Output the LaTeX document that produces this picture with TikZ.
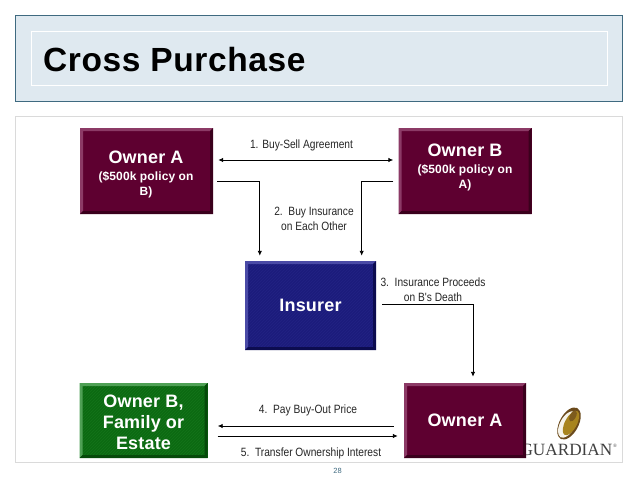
\documentclass[tikz,border=0pt]{standalone}
\usepackage{fontspec}
\setmainfont{Liberation Sans}
\newfontfamily\narrowfont[FakeStretch=0.85]{Liberation Sans}
\newfontfamily\wideboldfont[LetterSpace=1.8]{Liberation Sans Bold}
\newfontfamily\boxfont[LetterSpace=1]{Liberation Sans Bold}
\newfontfamily\logofont{Liberation Serif}
\usetikzlibrary{patterns,arrows.meta}

\definecolor{headfill}{HTML}{DFE9F0}
\definecolor{headline}{HTML}{3F6A80}
\definecolor{panelline}{HTML}{DADADA}
\definecolor{ownerfill}{HTML}{5E0030}
\definecolor{ownerlight}{HTML}{8C3A66}
\definecolor{ownerdark}{HTML}{3A001C}
\definecolor{insurerfill}{HTML}{1C1C7C}
\definecolor{insurerhatch}{HTML}{232384}
\definecolor{insurerlight}{HTML}{4A4AA6}
\definecolor{insurerdark}{HTML}{0C0C50}
\definecolor{familyfill}{HTML}{0C6A12}
\definecolor{familyhatch}{HTML}{14741A}
\definecolor{familylight}{HTML}{4FA055}
\definecolor{familydark}{HTML}{064A0A}
\definecolor{logogold}{HTML}{A8841E}
\definecolor{logobrown}{HTML}{6B4A1C}

% bevel edges of a box: #1 light side, #2 dark side
\newcommand{\bevelbox}[2]{
  \fill[#1] (path picture bounding box.north west) -- (path picture bounding box.north east)
    -- ++(-3pt,-3pt) -| ([shift={(3pt,3pt)}]path picture bounding box.south west)
    -- (path picture bounding box.south west) -- cycle;
  \fill[#2] (path picture bounding box.south east) -- (path picture bounding box.north east)
    -- ++(-3pt,-3pt) |- ([shift={(3pt,3pt)}]path picture bounding box.south west)
    -- (path picture bounding box.south west) -- cycle;
}
% same, round a faint hatching: #1 hatch colour
\newcommand{\hatchbox}[3]{
  \fill[pattern=north east lines,pattern color=#1] ([shift={(3pt,3pt)}]path picture bounding box.south west) rectangle ([shift={(-3pt,-3pt)}]path picture bounding box.north east);
  \bevelbox{#2}{#3}
}

\tikzset{
  partybox/.style={inner sep=0pt,text=white,align=center,font=\boxfont\fontsize{18}{21}\selectfont},
  ownerbox/.style={partybox,fill=ownerfill,path picture={\bevelbox{ownerlight}{ownerdark}}},
  insurerbox/.style={partybox,fill=insurerfill,path picture={\hatchbox{insurerhatch}{insurerlight}{insurerdark}}},
  familybox/.style={partybox,fill=familyfill,path picture={\hatchbox{familyhatch}{familylight}{familydark}}},
  nametext/.style={text=white,inner sep=0pt,align=center,font=\boxfont\fontsize{18}{21}\selectfont},
  policytext/.style={text=white,inner sep=0pt,align=center,font=\boxfont\fontsize{12}{15}\selectfont},
  steplabel/.style={inner sep=0pt,align=center,text=black!85,font=\narrowfont\fontsize{12}{15.5}\selectfont},
  flow/.style={draw=black,line width=0.9pt,-{Latex[length=5pt,width=4.5pt]}},
}

\begin{document}
\begin{tikzpicture}[x=1pt,y=-1pt]
  \useasboundingbox (0,0) rectangle (638,479);

  % heading
  \node[draw=headline,fill=headfill,line width=0.8pt,minimum width=607pt,minimum height=86pt,inner sep=0pt] (head) at (318.5,58) {};
  \node[draw=white,line width=0.7pt,minimum width=576pt,minimum height=54pt,inner sep=0pt] (headinner) at (319,58) {};
  \node[anchor=west,inner sep=0pt,font=\wideboldfont\fontsize{33.5}{38}\selectfont,text=black] (title) at (43,60) {Cross Purchase};

  % panel
  \node[draw=panelline,fill=white,line width=0.7pt,minimum width=607pt,minimum height=346pt,inner sep=0pt] (panel) at (318.5,289) {};

  % logo behind the last box
  \node[anchor=base east,inner sep=0pt,font=\logofont\fontsize{17.2}{20}\selectfont,text=black!75] (logotext) at (612.5,455) {GUARDIAN};
  \node[anchor=base west,inner sep=0pt,font=\logofont\fontsize{5}{5}\selectfont,text=black!75] (logomark) at (613,447) {\textregistered};
  \fill[logobrown,rotate around={-28:(569,423.5)}] (569,423.5) ellipse (9.5pt and 17.5pt);
  \fill[white!90!logogold,rotate around={-28:(567.5,424.5)}] (567.5,424.5) ellipse (7.5pt and 14.5pt);
  \fill[logogold,rotate around={-28:(571,423)}] (571,423) ellipse (6pt and 13.5pt);
  \fill[logobrown!70!logogold,rotate around={-28:(573,416)}] (573,416) ellipse (3pt and 6pt);

  % parties
  \node[ownerbox,minimum width=133pt,minimum height=86pt] (ownerA) at (146.5,171) {};
  \node[ownerbox,minimum width=133pt,minimum height=86pt] (ownerB) at (465,171) {};
  \node[insurerbox,minimum width=131pt,minimum height=89pt] (insurer) at (310.5,305.5) {Insurer};
  \node[familybox,minimum width=128pt,minimum height=75pt] (family) at (143.5,420.5) {};
  \node[ownerbox,minimum width=122pt,minimum height=75pt] (ownerC) at (465,420.5) {Owner A};

  % box texts
  \node[nametext] (ownerAname) at (146,157) {Owner A};
  \node[policytext] (ownerApolicy) at (146,185) {(\$500k policy on\\B)};
  \node[nametext] (ownerBname) at (465,150) {Owner B};
  \node[policytext] (ownerBpolicy) at (465,178) {(\$500k policy on\\A)};
  \node[nametext] (familyname) at (143.5,422) {Owner B,\\Family or\\Estate};

  % connectors
  \draw[flow,{Latex[length=5pt,width=4.5pt]}-{Latex[length=5pt,width=4.5pt]},shorten <=5pt,shorten >=5pt] ([yshift=11pt]ownerA.east) -- ([yshift=11pt]ownerB.west);
  \draw[flow,shorten <=4pt,shorten >=5pt] ([yshift=-10pt]ownerA.east) -| ([xshift=15pt]insurer.north west);
  \draw[flow,shorten <=5pt,shorten >=5pt] ([yshift=-10pt]ownerB.west) -| ([xshift=-14.5pt]insurer.north east);
  \draw[flow,shorten <=6pt,shorten >=6pt] ([yshift=1.5pt]insurer.east) -| ([xshift=8pt]ownerC.north);
  \draw[flow,shorten <=10pt,shorten >=10pt] ([yshift=-5.5pt]ownerC.west) -- ([yshift=-5.5pt]family.east);
  \draw[flow,shorten <=10pt,shorten >=6pt] ([yshift=-15.5pt]family.east) -- ([yshift=-15.5pt]ownerC.west);

  % step labels
  \node[steplabel] (step1) at (301.5,145) {1. Buy-Sell Agreement};
  \node[steplabel] (step2) at (314,219) {2.\ \ Buy Insurance\\on Each Other};
  \node[steplabel] (step3) at (433,289.5) {3.\ \ Insurance Proceeds\\on B's Death};
  \node[steplabel] (step4) at (308,410) {4.\ \ Pay Buy-Out Price};
  \node[steplabel] (step5) at (311,453) {5.\ \ Transfer Ownership Interest};
  \node[inner sep=0pt,text=headline,font=\fontsize{7.5}{9}\selectfont] (pageno) at (337.5,471) {28};
\end{tikzpicture}
\end{document}
